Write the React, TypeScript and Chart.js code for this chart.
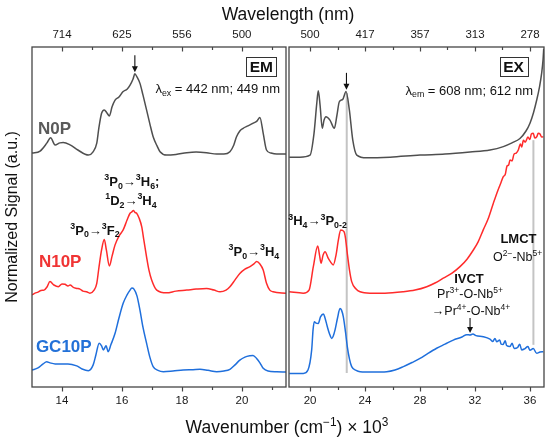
import { useEffect, useRef } from 'react';
import { Chart, registerables } from 'chart.js';

Chart.register(...registerables);

const FONT = '"Liberation Sans", Arial, Helvetica, sans-serif';

// ---------- axes ----------
const EM_MIN = 13;
const EM_MAX = 21.47;
const EX_MIN = 18.47;
const EX_MAX = 37.02;
const EM_TICKS = [14, 15, 16, 17, 18, 19, 20, 21];
const EM_LABELED = [14, 16, 18, 20];
const EX_TICKS = [20, 22, 24, 26, 28, 30, 32, 34, 36];
const EX_LABELED = [20, 24, 28, 32, 36];

// ---------- series (wavenumber x10^3, normalized signal with offsets) ----------
const SERIES_NAMES = ['N0P', 'N10P', 'GC10P'];

const EM_N0P: [number, number][] = [
  [13.0, 68.8], [13.27, 69.4], [13.5, 71.8], [13.62, 73.3], [13.77, 71.2], [13.93, 71.8], [14.04, 71.9],
  [14.27, 71.2], [14.53, 69.7], [14.88, 68.2], [15.03, 69.1], [15.16, 71.7], [15.23, 76.2], [15.32, 80.5],
  [15.41, 81.5], [15.5, 80.6], [15.58, 79.7], [15.67, 82.4], [15.77, 84.4], [15.9, 85.3], [16.04, 86.9],
  [16.17, 87.6], [16.27, 88.8], [16.37, 90.6], [16.43, 92.1], [16.5, 91.2], [16.6, 89.3], [16.7, 85.9],
  [16.82, 81.5], [16.93, 77.4], [17.04, 73.6], [17.17, 70.9], [17.27, 69.2], [17.49, 68.2], [17.8, 68.4],
  [18.16, 68.9], [18.47, 69.1], [18.82, 68.9], [19.16, 68.5], [19.4, 68.5], [19.6, 69.2], [19.73, 71.2],
  [19.82, 73.6], [19.93, 75.3], [20.04, 76.1], [20.2, 76.8], [20.38, 77.6], [20.5, 78.2], [20.6, 79.3],
  [20.71, 74.6], [20.82, 69.7], [20.97, 68.8], [21.16, 68.5], [21.47, 68.5],
];

const EM_N10P: [number, number][] = [
  [13.0, 27.1], [13.1, 27.6], [13.2, 27.9], [13.3, 28.4], [13.4, 28.5], [13.5, 29.4], [13.6, 31.0],
  [13.73, 30.0], [13.88, 29.5], [14.0, 30.3], [14.1, 30.2], [14.2, 29.7], [14.27, 30.0], [14.38, 29.3],
  [14.49, 29.0], [14.6, 28.8], [14.7, 28.2], [14.82, 28.0], [14.93, 27.6], [15.07, 28.5], [15.16, 30.5],
  [15.23, 35.0], [15.32, 40.3], [15.41, 43.4], [15.48, 40.3], [15.58, 35.6], [15.67, 38.5], [15.77, 41.8],
  [15.9, 44.4], [16.04, 46.2], [16.17, 49.1], [16.27, 51.1], [16.33, 51.5], [16.38, 51.9], [16.44, 51.3],
  [16.49, 51.1], [16.57, 49.7], [16.66, 47.1], [16.73, 43.2], [16.82, 38.3], [16.9, 34.4], [16.99, 31.5],
  [17.16, 28.5], [17.49, 27.7], [17.8, 28.2], [18.16, 28.5], [18.47, 28.8], [18.82, 29.0], [19.07, 28.5],
  [19.27, 28.0], [19.47, 28.5], [19.6, 29.5], [19.77, 31.5], [19.93, 33.4], [20.1, 34.7], [20.27, 35.4],
  [20.4, 36.2], [20.49, 36.9], [20.6, 36.2], [20.71, 34.4], [20.82, 30.5], [20.93, 28.5], [21.04, 28.0],
  [21.47, 27.6],
];

const EM_GC10P: [number, number][] = [
  [13.0, 5.0], [13.2, 5.6], [13.37, 6.8], [13.49, 7.4], [13.6, 7.1], [13.77, 6.8], [13.99, 6.8],
  [14.2, 6.8], [14.49, 6.2], [14.67, 5.3], [14.88, 4.8], [15.04, 6.5], [15.13, 9.4], [15.24, 12.9],
  [15.32, 12.1], [15.38, 10.9], [15.47, 12.1], [15.54, 10.4], [15.63, 12.4], [15.77, 15.8], [15.9, 20.3],
  [16.04, 24.6], [16.17, 27.1], [16.27, 28.5], [16.33, 29.1], [16.4, 28.8], [16.5, 26.8], [16.6, 22.6],
  [16.7, 17.6], [16.82, 12.9], [16.93, 8.8], [17.04, 6.0], [17.2, 4.9], [17.38, 4.5], [17.7, 4.7],
  [18.04, 5.0], [18.37, 5.1], [18.6, 5.2], [18.87, 4.9], [19.16, 4.5], [19.4, 4.7], [19.6, 5.2],
  [19.77, 6.5], [19.93, 7.9], [20.1, 8.8], [20.27, 9.2], [20.37, 9.3], [20.49, 8.4], [20.6, 7.1],
  [20.71, 5.5], [20.87, 4.7], [21.16, 4.5], [21.47, 4.4],
];

const EX_N0P: [number, number][] = [
  [18.49, 67.6], [19.27, 67.6], [20.0, 68.2], [20.29, 74.6], [20.49, 83.4], [20.6, 87.1], [20.73, 82.9],
  [20.89, 76.1], [21.02, 78.5], [21.16, 79.5], [21.45, 78.5], [21.77, 76.1], [21.96, 80.0], [22.13, 83.9],
  [22.38, 84.6], [22.62, 86.9], [22.86, 81.5], [23.11, 72.6], [23.4, 68.2], [24.12, 67.4], [25.82, 67.6],
  [28.0, 68.2], [29.82, 68.5], [31.64, 69.1], [33.09, 69.7], [34.06, 70.7], [34.69, 71.8], [35.27, 73.1],
  [35.71, 75.3], [36.0, 77.6], [36.25, 80.6], [36.49, 84.4], [36.69, 88.2], [36.85, 92.3], [36.95, 96.2],
  [37.0, 99.5],
];

const EX_N10P: [number, number][] = [
  [18.49, 28.0], [19.51, 27.6], [19.93, 28.5], [20.24, 35.4], [20.56, 41.5], [20.69, 38.8], [20.8, 36.4],
  [20.95, 38.8], [21.09, 39.8], [21.33, 37.8], [21.49, 36.8], [21.69, 35.9], [21.89, 38.8], [22.06, 43.2],
  [22.23, 46.2], [22.47, 45.7], [22.58, 43.8], [22.71, 39.3], [22.87, 34.4], [23.03, 31.0], [23.35, 28.8],
  [23.64, 28.0], [24.36, 27.6], [25.45, 27.6], [26.79, 28.0], [27.64, 28.5], [28.49, 29.5], [29.09, 30.6],
  [29.69, 32.0], [30.33, 33.5], [30.91, 35.4], [31.42, 37.6], [31.88, 40.3], [32.22, 42.6], [32.6, 46.2],
  [32.95, 49.4], [33.33, 54.0], [33.67, 57.9], [33.9, 60.2], [34.06, 61.9], [34.2, 62.5], [34.33, 65.0],
  [34.45, 65.3], [34.55, 66.8], [34.7, 66.5], [34.84, 68.5], [35.0, 68.8], [35.15, 69.7], [35.3, 71.5],
  [35.4, 70.6], [35.52, 72.6], [35.65, 72.0], [35.85, 73.5], [36.0, 72.8], [36.1, 74.4], [36.24, 74.6],
  [36.35, 73.2], [36.49, 73.6], [36.6, 74.6], [36.73, 74.4], [36.85, 73.5], [36.97, 73.6],
];

const EX_GC10P: [number, number][] = [
  [18.49, 4.0], [19.51, 4.0], [19.85, 5.0], [20.12, 10.9], [20.22, 16.8], [20.31, 19.2], [20.44, 18.8],
  [20.6, 18.7], [20.76, 20.6], [20.97, 21.5], [21.09, 20.3], [21.26, 17.7], [21.42, 15.6], [21.58, 14.3],
  [21.69, 15.0], [21.82, 16.8], [22.0, 20.3], [22.18, 23.1], [22.29, 22.6], [22.42, 20.7], [22.58, 16.2],
  [22.71, 11.9], [22.87, 8.2], [23.03, 6.0], [23.35, 4.9], [23.64, 4.5], [24.58, 4.4], [25.58, 4.5],
  [26.18, 5.0], [26.79, 6.0], [27.42, 7.2], [28.0, 8.4], [28.58, 9.9], [29.21, 11.4], [29.82, 12.6],
  [30.42, 13.8], [31.05, 14.7], [31.4, 15.4], [31.64, 15.3], [31.85, 15.6], [32.07, 15.1], [32.6, 14.8],
  [33.09, 14.1], [33.3, 13.4], [33.45, 14.3], [33.58, 13.3], [33.8, 13.8], [33.9, 12.6], [34.04, 12.5],
  [34.2, 13.6], [34.3, 12.2], [34.55, 11.9], [34.7, 12.9], [34.85, 11.3], [35.1, 11.6], [35.25, 12.6],
  [35.4, 10.9], [35.6, 11.2], [35.85, 11.9], [36.0, 10.8], [36.24, 11.3], [36.49, 9.9], [36.73, 10.3],
  [36.97, 10.4],
];

// ---------- annotations (text, anchor in data units) ----------
const EM_LABELS: [string, number, number][] = [
  ['^{3}P_{0}→^{3}F_{2}', 15.1, 46.2],
  ['^{3}P_{0}→^{3}H_{6};', 16.33, 60.6],
  ['^{1}D_{2}→^{3}H_{4}', 16.3, 55.0],
  ['^{3}P_{0}→^{3}H_{4}', 20.4, 40.0],
];
const EM_SAMPLE_POS: [number, number][] = [[13.2, 76.2], [13.23, 37.1], [13.13, 12.1]];
const EM_ARROWS: [number, number, number][] = [[16.43, 97.6, 92.6]];
const EX_ARROWS: [number, number, number][] = [[22.65, 92.4, 87.4], [31.64, 20.3, 15.9]];
const EX_GUIDES: [number, number, number][] = [[22.67, 4.1, 86.5], [36.25, 12.4, 72.6]];
const EX_BOLD: [string, number, number][] = [
  ['^{3}H_{4}→^{3}P_{0-2}', 20.55, 49.1],
  ['LMCT', 35.16, 43.8],
  ['IVCT', 31.56, 32.1],
];
const EX_PLAIN: [string, number, number][] = [
  ['O^{2−}-Nb^{5+}', 35.1, 38.5],
  ['Pr^{3+}-O-Nb^{5+}', 31.64, 27.4],
  ['→Pr^{4+}-O-Nb^{4+}', 31.71, 22.4],
];

// ---------- styles ----------
const LINE_COLORS = ['#4f4f4f', '#ff2b2b', '#1f6fdc'];
const LABEL_COLORS = ['#5a5a5a', '#f03434', '#2371d8'];
const FRAME = '#454545';

function parseRich(s: string) {
  const out: { t: string; m: number }[] = [];
  const re = /\^\{([^}]*)\}|_\{([^}]*)\}|([^^_]+)/g;
  let mm: RegExpExecArray | null;
  while ((mm = re.exec(s))) {
    if (mm[1] !== undefined) out.push({ t: mm[1], m: 1 });
    else if (mm[2] !== undefined) out.push({ t: mm[2], m: -1 });
    else out.push({ t: mm[3], m: 0 });
  }
  return out;
}

function drawRich(ctx: CanvasRenderingContext2D, s: string, x: number, y: number, size: number, bold: boolean, align: string, color: string) {
  const segs = parseRich(s);
  const w = bold ? 'bold ' : '';
  const fontFor = (m: number) => `${w}${m === 0 ? size : size * 0.68}px ${FONT}`;
  let total = 0;
  for (const sg of segs) {
    ctx.font = fontFor(sg.m);
    total += ctx.measureText(sg.t).width;
  }
  let cx = align === 'center' ? x - total / 2 : align === 'right' ? x - total : x;
  ctx.save();
  ctx.fillStyle = color;
  ctx.textBaseline = 'alphabetic';
  ctx.textAlign = 'left';
  const base = y + size * 0.36;
  for (const sg of segs) {
    ctx.font = fontFor(sg.m);
    const dy = sg.m === 1 ? -size * 0.4 : sg.m === -1 ? size * 0.22 : 0;
    ctx.fillText(sg.t, cx, base + dy);
    cx += ctx.measureText(sg.t).width;
  }
  ctx.restore();
  return total;
}

function drawTicks(chart: any, labeled: number[]) {
  const ctx = chart.ctx as CanvasRenderingContext2D;
  const ca = chart.chartArea;
  ctx.save();
  ctx.strokeStyle = FRAME;
  ctx.lineWidth = 1.2;
  for (const id of ['x', 'xTop']) {
    const sc = chart.scales[id];
    const edge = id === 'x' ? ca.bottom : ca.top;
    for (const t of sc.ticks) {
      const px = Math.round(sc.getPixelForValue(t.value)) + 0.5;
      const len = labeled.includes(t.value) ? 4.5 : 3;
      ctx.beginPath();
      ctx.moveTo(px, edge);
      ctx.lineTo(px, edge + len);
      ctx.stroke();
    }
  }
  ctx.restore();
}

function drawFrame(chart: any) {
  const ctx = chart.ctx as CanvasRenderingContext2D;
  const ca = chart.chartArea;
  ctx.save();
  ctx.strokeStyle = FRAME;
  ctx.lineWidth = 1.3;
  ctx.strokeRect(ca.left, ca.top, ca.right - ca.left, ca.bottom - ca.top);
  ctx.restore();
}

function drawArrows(chart: any, arrows: [number, number, number][]) {
  const ctx = chart.ctx as CanvasRenderingContext2D;
  const xs = chart.scales.x;
  const ys = chart.scales.y;
  ctx.save();
  ctx.strokeStyle = '#111';
  ctx.fillStyle = '#111';
  ctx.lineWidth = 1.1;
  for (const [xv, y0v, y1v] of arrows) {
    const x = xs.getPixelForValue(xv);
    const y0 = ys.getPixelForValue(y0v);
    const y1 = ys.getPixelForValue(y1v);
    ctx.beginPath();
    ctx.moveTo(x, y0);
    ctx.lineTo(x, y1 - 5);
    ctx.stroke();
    ctx.beginPath();
    ctx.moveTo(x - 3, y1 - 6);
    ctx.lineTo(x + 3, y1 - 6);
    ctx.lineTo(x, y1);
    ctx.closePath();
    ctx.fill();
  }
  ctx.restore();
}

function drawBoxLabel(chart: any, text: string, xv: number, yv: number) {
  const ctx = chart.ctx as CanvasRenderingContext2D;
  const x = chart.scales.x.getPixelForValue(xv);
  const y = chart.scales.y.getPixelForValue(yv);
  ctx.save();
  ctx.font = `bold 15.5px ${FONT}`;
  const w = ctx.measureText(text).width + 7;
  const h = 19;
  ctx.fillStyle = '#fff';
  ctx.fillRect(x - w / 2, y - h / 2, w, h);
  ctx.strokeStyle = '#333';
  ctx.lineWidth = 1;
  ctx.strokeRect(Math.round(x - w / 2) + 0.5, Math.round(y - h / 2) + 0.5, Math.round(w), h);
  ctx.restore();
  drawRich(ctx, text, x, y, 15.5, true, 'center', '#111');
}

function makeScales(min: number, max: number, ticks: number[], labeled: number[]) {
  const tickFont = { family: FONT, size: 11.5 };
  return {
    x: {
      type: 'linear',
      position: 'bottom',
      min,
      max,
      afterBuildTicks: (s: any) => {
        s.ticks = ticks.map((v) => ({ value: v }));
      },
      afterFit: (s: any) => {
        s.height = 55;
      },
      grid: { display: false, drawTicks: false },
      border: { display: false },
      ticks: {
        autoSkip: false,
        maxRotation: 0,
        minRotation: 0,
        padding: 7,
        color: '#1a1a1a',
        font: tickFont,
        callback: (v: number) => (labeled.includes(v) ? String(v) : ''),
      },
    },
    xTop: {
      type: 'linear',
      axis: 'x',
      position: 'top',
      min,
      max,
      afterBuildTicks: (s: any) => {
        s.ticks = ticks.map((v) => ({ value: v }));
      },
      afterFit: (s: any) => {
        s.height = 47;
      },
      grid: { display: false, drawTicks: false },
      border: { display: false },
      ticks: {
        autoSkip: false,
        maxRotation: 0,
        minRotation: 0,
        padding: 5,
        color: '#1a1a1a',
        font: tickFont,
        callback: (v: number) => (labeled.includes(v) ? String(Math.round(1e4 / v)) : ''),
      },
    },
  };
}

function datasets(series: [number, number][][]) {
  return series.map((s, i) => ({
    label: SERIES_NAMES[i],
    data: s.map(([x, y]) => ({ x, y })),
    borderColor: LINE_COLORS[i],
    borderWidth: 1.5,
    pointRadius: 0,
    fill: false,
    cubicInterpolationMode: 'monotone',
    tension: 0.3,
  }));
}

export default function App() {
  const leftRef = useRef<HTMLCanvasElement>(null);
  const rightRef = useRef<HTMLCanvasElement>(null);

  useEffect(() => {
    const leftPlugin = {
      id: 'emDecor',
      afterDatasetsDraw(chart: any) {
        const ctx = chart.ctx as CanvasRenderingContext2D;
        const xs = chart.scales.x;
        const ys = chart.scales.y;
        drawFrame(chart);
        drawTicks(chart, EM_LABELED);
        // shared titles
        drawRich(ctx, 'Wavelength (nm)', 288, 14, 17.5, false, 'center', '#111');
        drawRich(ctx, 'Wavenumber (cm^{−1}) × 10^{3}', 287, 427, 17.5, false, 'center', '#111');
        drawBoxLabel(chart, 'EM', 20.65, 94.3);
        drawRich(ctx, 'λ_{ex} = 442 nm; 449 nm', xs.getPixelForValue(21.27), ys.getPixelForValue(87.9), 13, false, 'right', '#111');
        SERIES_NAMES.forEach((n, i) => {
          const [xv, yv] = EM_SAMPLE_POS[i];
          drawRich(ctx, n, xs.getPixelForValue(xv), ys.getPixelForValue(yv), 17, true, 'left', LABEL_COLORS[i]);
        });
        for (const [t, xv, yv] of EM_LABELS) {
          drawRich(ctx, t, xs.getPixelForValue(xv), ys.getPixelForValue(yv), 13, true, 'center', '#111');
        }
        drawArrows(chart, EM_ARROWS);
      },
    };

    const rightPlugin = {
      id: 'exDecor',
      beforeDatasetsDraw(chart: any) {
        const ctx = chart.ctx as CanvasRenderingContext2D;
        const xs = chart.scales.x;
        const ys = chart.scales.y;
        ctx.save();
        ctx.strokeStyle = '#c4c4c4';
        ctx.lineWidth = 2;
        for (const [xv, y0, y1] of EX_GUIDES) {
          const x = xs.getPixelForValue(xv);
          ctx.beginPath();
          ctx.moveTo(x, ys.getPixelForValue(y0));
          ctx.lineTo(x, ys.getPixelForValue(y1));
          ctx.stroke();
        }
        ctx.restore();
      },
      afterDatasetsDraw(chart: any) {
        const ctx = chart.ctx as CanvasRenderingContext2D;
        const xs = chart.scales.x;
        const ys = chart.scales.y;
        drawFrame(chart);
        drawTicks(chart, EX_LABELED);
        drawBoxLabel(chart, 'EX', 34.8, 94.3);
        drawRich(ctx, 'λ_{em} = 608 nm; 612 nm', xs.getPixelForValue(36.22), ys.getPixelForValue(87.4), 13, false, 'right', '#111');
        for (const [t, xv, yv] of EX_BOLD) {
          drawRich(ctx, t, xs.getPixelForValue(xv), ys.getPixelForValue(yv), 13, true, 'center', '#111');
        }
        for (const [t, xv, yv] of EX_PLAIN) {
          drawRich(ctx, t, xs.getPixelForValue(xv), ys.getPixelForValue(yv), 12.5, false, 'center', '#111');
        }
        drawArrows(chart, EX_ARROWS);
      },
    };

    const common = {
      responsive: false,
      animation: false,
      events: [],
      plugins: { legend: { display: false }, tooltip: { enabled: false } },
    };

    const left = new Chart(leftRef.current as HTMLCanvasElement, {
      type: 'line',
      data: { datasets: datasets([EM_N0P, EM_N10P, EM_GC10P]) as any },
      options: {
        ...common,
        layout: { padding: { left: 0, right: 264, top: 0, bottom: 0 } },
        scales: {
          ...makeScales(EM_MIN, EM_MAX, EM_TICKS, EM_LABELED),
          y: {
            type: 'linear',
            min: 0,
            max: 100,
            afterFit: (s: any) => {
              s.width = 32;
            },
            ticks: { display: false },
            grid: { display: false, drawTicks: false },
            border: { display: false },
            title: {
              display: true,
              text: 'Normalized Signal (a.u.)',
              color: '#111',
              font: { family: FONT, size: 16 },
              padding: { top: 3, bottom: 0 },
            },
          },
        },
      } as any,
      plugins: [leftPlugin],
    });

    const right = new Chart(rightRef.current as HTMLCanvasElement, {
      type: 'line',
      data: { datasets: datasets([EX_N0P, EX_N10P, EX_GC10P]) as any },
      options: {
        ...common,
        layout: { padding: { left: 2, right: 6, top: 0, bottom: 0 } },
        scales: {
          ...makeScales(EX_MIN, EX_MAX, EX_TICKS, EX_LABELED),
          y: { type: 'linear', min: 0, max: 100, display: false },
        },
      } as any,
      plugins: [rightPlugin],
    });

    return () => {
      left.destroy();
      right.destroy();
    };
  }, []);

  return (
    <div style={{ position: 'fixed', left: 0, top: 0, width: 550, height: 442, background: '#fff' }}>
      <canvas ref={leftRef} width={550} height={442} style={{ position: 'absolute', left: 0, top: 0, width: 550, height: 442 }} />
      <canvas ref={rightRef} width={263} height={442} style={{ position: 'absolute', left: 287, top: 0, width: 263, height: 442 }} />
    </div>
  );
}
